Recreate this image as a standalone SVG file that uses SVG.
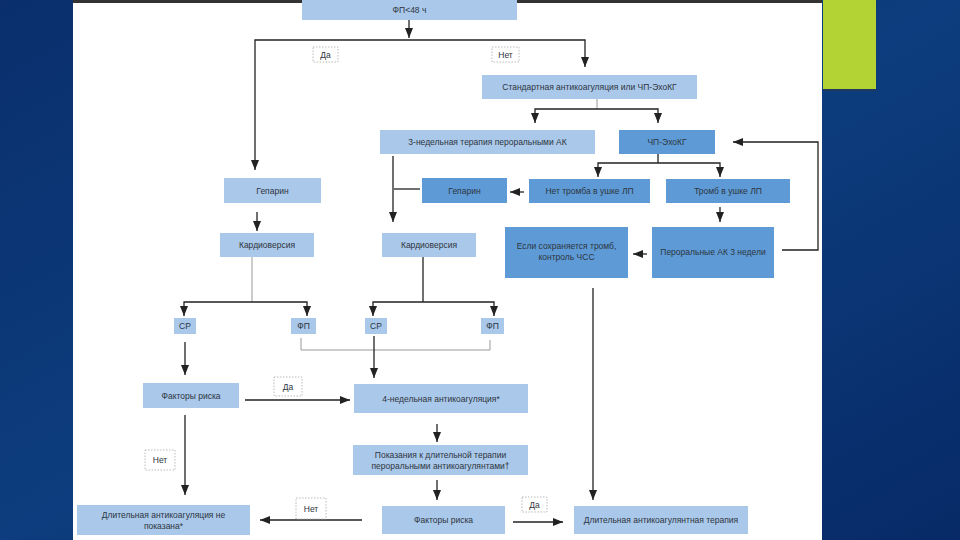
<svg xmlns="http://www.w3.org/2000/svg" width="960" height="540" viewBox="0 0 960 540">
<defs>
<linearGradient id="bg" x1="0" y1="0" x2="1" y2="1">
<stop offset="0" stop-color="#0a2f6c"/>
<stop offset="0.5" stop-color="#0d3d7e"/>
<stop offset="1" stop-color="#072a66"/>
</linearGradient>
<marker id="ah" markerUnits="userSpaceOnUse" markerWidth="10" markerHeight="8" refX="10" refY="4" orient="auto">
<path d="M0,0 L10,4 L0,8 z" fill="#222"/>
</marker>
<style>
.l{fill:#aac8ea}
.d{fill:#5e9bd6}
.t{font-family:"Liberation Sans",Arial,sans-serif;font-size:8.5px;fill:#2d3540;text-anchor:middle}
.c{fill:none;stroke:#222;stroke-width:1.3}
.g{fill:none;stroke:#999;stroke-width:1}
.lb{fill:#fff;stroke:#aaa;stroke-width:0.8;stroke-dasharray:1.5,1.5}
</style>
</defs>
<rect width="960" height="540" fill="url(#bg)"/>
<rect x="73" y="0" width="749" height="540" fill="#fff"/>
<rect x="73" y="0" width="749" height="3" fill="#333"/>
<rect x="823" y="0" width="53" height="90" fill="#b3d334"/>
<rect x="823" y="89" width="53" height="2" fill="#1f3a5a"/>

<g id="connectors">
<path class="c" d="M409,20 V38" marker-end="url(#ah)"/>
<path class="c" d="M409,40 H255 V170" marker-end="url(#ah)"/>
<path class="c" d="M409,40 H585 V67" marker-end="url(#ah)"/>
<path class="g" d="M597,99 V109"/>
<path class="c" d="M597,109 H535 V123" marker-end="url(#ah)"/>
<path class="c" d="M597,109 H658 V123" marker-end="url(#ah)"/>
<path class="c" d="M658,154 V163"/>
<path class="c" d="M658,163 H598 V177" marker-end="url(#ah)"/>
<path class="c" d="M658,163 H720 V177" marker-end="url(#ah)"/>
<path class="c" d="M524,192 H510" marker-end="url(#ah)"/>
<path class="c" d="M420,189 H394"/>
<path class="c" d="M393,156 V222" marker-end="url(#ah)"/>
<path class="c" d="M257,212 V231" marker-end="url(#ah)"/>
<path class="c" d="M720,207 V222" marker-end="url(#ah)"/>
<path class="c" d="M647,254 H633" marker-end="url(#ah)"/>
<path class="c" d="M782,250 H818 V142 H733" marker-end="url(#ah)"/>
<path class="c" d="M593,288 V500" marker-end="url(#ah)"/>
<path class="g" d="M252,257 V302"/>
<path class="c" d="M252,302 H184 V316" marker-end="url(#ah)"/>
<path class="c" d="M252,302 H307 V316" marker-end="url(#ah)"/>
<path class="c" d="M423,257 V302"/>
<path class="c" d="M423,302 H373 V316" marker-end="url(#ah)"/>
<path class="c" d="M423,302 H494 V316" marker-end="url(#ah)"/>
<path class="g" d="M301,338 V350 H490 V340"/>
<path class="c" d="M374,336 V378" marker-end="url(#ah)"/>
<path class="c" d="M185,342 V375" marker-end="url(#ah)"/>
<path class="c" d="M245,400 H350" marker-end="url(#ah)"/>
<path class="c" d="M437,424 V442" marker-end="url(#ah)"/>
<path class="c" d="M437,480 V500" marker-end="url(#ah)"/>
<path class="c" d="M362,520 H260" marker-end="url(#ah)"/>
<path class="c" d="M185,415 V495" marker-end="url(#ah)"/>
<path class="c" d="M513,522 H563" marker-end="url(#ah)"/>
</g>

<g id="labels">
<rect class="lb" x="313" y="47" width="25" height="15"/><text class="t" x="325.5" y="57.5">Да</text>
<rect class="lb" x="492" y="47" width="27" height="15"/><text class="t" x="505.5" y="57.5">Нет</text>
<rect class="lb" x="274" y="377" width="28" height="19"/><text class="t" x="288" y="389.5">Да</text>
<rect class="lb" x="145" y="450" width="30" height="20"/><text class="t" x="160" y="463">Нет</text>
<rect class="lb" x="296" y="498" width="30" height="21"/><text class="t" x="311" y="511.5">Нет</text>
<rect class="lb" x="522" y="497" width="25" height="15"/><text class="t" x="534.5" y="507.5">Да</text>
</g>

<g id="n1"><rect class="l" x="302" y="0" width="215" height="20"/><text class="t" x="409.5" y="13">ФП&lt;48 ч</text></g>
<g id="n2"><rect class="l" x="482" y="75" width="215" height="24"/><text class="t" x="589.5" y="90">Стандартная антикоагуляция или ЧП-ЭхоКГ</text></g>
<g id="n3"><rect class="l" x="380" y="130" width="215" height="24"/><text class="t" x="487.5" y="145">3-недельная терапия пероральными АК</text></g>
<g id="n4"><rect class="d" x="619" y="130" width="96" height="24"/><text class="t" x="667" y="145">ЧП-ЭхоКГ</text></g>
<g id="n5"><rect class="l" x="224" y="178" width="97" height="25"/><text class="t" x="272.5" y="193.5">Гепарин</text></g>
<g id="n6"><rect class="d" x="422" y="178" width="85" height="25"/><text class="t" x="464.5" y="193.5">Гепарин</text></g>
<g id="n7"><rect class="d" x="529" y="179" width="121" height="24"/><text class="t" x="589.5" y="194">Нет тромба в ушке ЛП</text></g>
<g id="n8"><rect class="d" x="666" y="179" width="124" height="24"/><text class="t" x="728" y="194">Тромб в ушке ЛП</text></g>
<g id="n9"><rect class="l" x="220" y="233" width="94" height="24"/><text class="t" x="267" y="248">Кардиоверсия</text></g>
<g id="n10"><rect class="l" x="382" y="233" width="94" height="24"/><text class="t" x="429" y="248">Кардиоверсия</text></g>
<g id="n11"><rect class="d" x="505" y="227" width="123" height="51"/><text class="t" x="566.5" y="249">Если сохраняется тромб,</text><text class="t" x="566.5" y="260">контроль ЧСС</text></g>
<g id="n12"><rect class="d" x="652" y="227" width="122" height="51"/><text class="t" x="713" y="255">Пероральные АК 3 недели</text></g>
<g id="n13"><rect class="l" x="174" y="318" width="22" height="16"/><text class="t" x="185" y="329">СР</text></g>
<g id="n14"><rect class="l" x="291" y="318" width="25" height="16"/><text class="t" x="303.5" y="329">ФП</text></g>
<g id="n15"><rect class="l" x="365" y="318" width="22" height="16"/><text class="t" x="376" y="329">СР</text></g>
<g id="n16"><rect class="l" x="481" y="318" width="23" height="16"/><text class="t" x="492.5" y="329">ФП</text></g>
<g id="n17"><rect class="l" x="143" y="383" width="96" height="25"/><text class="t" x="191" y="398.5">Факторы риска</text></g>
<g id="n18"><rect class="l" x="354" y="384" width="174" height="29"/><text class="t" x="441" y="401.5">4-недельная антикоагуляция*</text></g>
<g id="n19"><rect class="l" x="353" y="445" width="175" height="30"/><text class="t" x="440.5" y="457.5">Показания к длительной терапии</text><text class="t" x="440.5" y="468.5">пероральными антикоагулянтами†</text></g>
<g id="n20"><rect class="l" x="382" y="506" width="123" height="28"/><text class="t" x="443.5" y="523">Факторы риска</text></g>
<g id="n21"><rect class="l" x="77" y="505" width="173" height="30"/><text class="t" x="163.5" y="517.5">Длительная антикоагуляция не</text><text class="t" x="163.5" y="528.5">показана*</text></g>
<g id="n22"><rect class="l" x="574" y="506" width="174" height="28"/><text class="t" x="661" y="523">Длительная антикоагулянтная терапия</text></g>
</svg>
